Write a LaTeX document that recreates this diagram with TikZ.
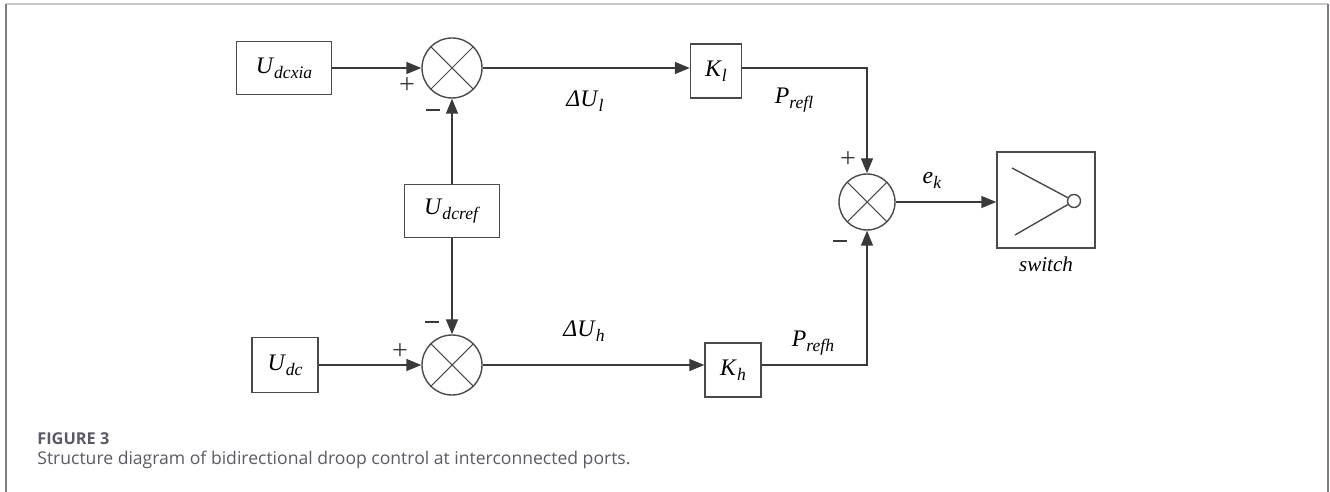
\documentclass[tikz,border=0pt]{standalone}
\usepackage{fontspec}
\setmainfont{Liberation Serif}
\newfontfamily\capfont{Open Sans}
\usetikzlibrary{arrows.meta}

% Farben
\definecolor{lineGray}{HTML}{3A3A3A}
\definecolor{boxGray}{HTML}{4A4A4A}
\definecolor{frameSide}{HTML}{7C7C86}
\definecolor{frameTop}{HTML}{C8C8CC}
\definecolor{capGray}{HTML}{5A5A64}

% Variable mit Index, kursiv
\newcommand{\lbl}[2]{\textit{#1}\raisebox{-0.45ex}{\fontsize{10}{11}\selectfont\textit{#2}}}
% dicker Minusstrich
\newcommand{\minussign}{\rule[0.3ex]{2.7mm}{0.55mm}}

\begin{document}
\begin{tikzpicture}[
    x=0.2mm, y=-0.2mm, % Pixelraster des Vorbilds
    >={Triangle[length=3mm, width=2.4mm]}, % Stil der Pfeilspitzen
    % --- Node-Stile ---
    block/.style={draw=boxGray, line width=0.8pt, inner sep=0pt, font=\fontsize{13.5}{15}\selectfont},
    sumNode/.style={draw=boxGray, line width=0.8pt, circle, minimum size=12mm, inner sep=0pt,
        path picture={\draw[boxGray, line width=0.6pt]
            (path picture bounding box.north west) -- (path picture bounding box.south east)
            (path picture bounding box.north east) -- (path picture bounding box.south west);}},
    contact/.style={draw=boxGray, line width=0.8pt, circle, minimum size=2.6mm, inner sep=0pt},
    var_label/.style={font=\fontsize{13.5}{15}\selectfont, inner sep=1pt},
    sign_label/.style={font=\fontsize{16}{16}\selectfont, inner sep=0pt, text=lineGray},
    cap_head/.style={font=\capfont\bfseries\fontsize{9.3}{11}\selectfont, text=capGray, inner sep=0pt},
    cap_text/.style={font=\capfont\fontsize{10}{12}\selectfont, text=capGray, inner sep=0pt},
    % --- Linienstile ---
    sig/.style={->, line width=0.8pt, draw=lineGray},
    wire/.style={line width=0.8pt, draw=boxGray}
]
    \useasboundingbox (0,0) rectangle (1330,492);

    % ===========================
    % 1. RAHMEN
    % ===========================
    \draw[frameTop, line width=1pt] (6,4) -- (1328,4);
    \draw[frameSide, line width=1.2pt] (6,4) -- (6,492);
    \draw[frameSide, line width=1.2pt] (1328,4) -- (1328,492);

    % ===========================
    % 2. PLATZIERUNG DER KNOTEN
    % ===========================
    \node[block, minimum width=19mm, minimum height=10.6mm]   (Udcxia) at (284, 68)  {\lbl{U}{dcxia}};
    \node[sumNode]                                           (SumL)   at (452, 68)  {};
    \node[block, minimum width=19mm, minimum height=10.6mm]   (Udcref) at (452, 211) {\lbl{U}{dcref}};
    \node[block, minimum width=13.2mm, minimum height=11mm]   (Udc)    at (285, 365) {\lbl{U}{dc}};
    \node[sumNode]                                           (SumH)   at (452, 365) {};

    \node[block, minimum width=10.2mm, minimum height=10.8mm] (Kl)     at (716, 71)  {\lbl{K}{l}};
    \node[block, minimum width=11.2mm, minimum height=10.8mm] (Kh)     at (733, 370) {\lbl{K}{h}};

    \node[sumNode, minimum size=11.2mm]                       (SumR)   at (867, 202) {};
    \node[block, minimum width=19.6mm, minimum height=19.2mm] (Sw)     at (1046, 200) {};
    \node[contact]                                            (Ct)     at (1074, 201) {};

    % ===========================
    % 3. VERBINDUNGEN
    % ===========================
    \draw[sig] (Udcxia) -- (SumL);
    \draw[sig] (SumL.east) -- (SumL.east -| Kl.west);
    \draw[sig] (Udcref) -- (SumL);
    \draw[sig] (Udcref) -- (SumH);
    \draw[sig] (Udc) -- (SumH);
    \draw[sig] (SumH.east) -- (SumH.east -| Kh.west);

    % K-Bloecke -> Summierer rechts
    \draw[sig] (Kl.east |- SumL) -| (SumR.north);
    \draw[sig] (Kh.east |- SumH) -| (SumR.south);

    % Summierer -> Schalter
    \draw[sig] (SumR) -- (Sw.west |- SumR);

    % Schaltersymbol
    \draw[wire] (1012, 168) -- (Ct);
    \draw[wire] (1015, 235) -- (Ct);

    % ===========================
    % 4. BESCHRIFTUNGEN
    % ===========================
    \node[var_label] (dUl)   at (585, 101) {\textit{Δ}\lbl{U}{l}};
    \node[var_label] (dUh)   at (584, 331) {\textit{Δ}\lbl{U}{h}};
    \node[var_label] (Prefl) at (794, 100) {\lbl{P}{refl}};
    \node[var_label] (Prefh) at (813, 343) {\lbl{P}{refh}};
    \node[var_label] (ek)    at (932, 180) {\lbl{e}{k}};
    \node[var_label, font=\fontsize{12}{14}\selectfont] (swLbl) at (1046, 264) {\textit{switch}};

    \node[sign_label] (plusL)  at (407, 86)  {+};
    \node[sign_label] (minusL) at (433, 112) {\minussign};
    \node[sign_label] (plusH)  at (400, 352) {+};
    \node[sign_label] (minusH) at (432, 324) {\minussign};
    \node[sign_label] (plusR)  at (848, 160) {+};
    \node[sign_label] (minusR) at (840, 243) {\minussign};

    % ===========================
    % 5. BILDUNTERSCHRIFT
    % ===========================
    \node[cap_head, anchor=base west] (capNum) at (37, 445) {FIGURE 3};
    \node[cap_text, anchor=base west] (capTxt) at (37, 465) {Structure diagram of bidirectional droop control at interconnected ports.};

\end{tikzpicture}
\end{document}
